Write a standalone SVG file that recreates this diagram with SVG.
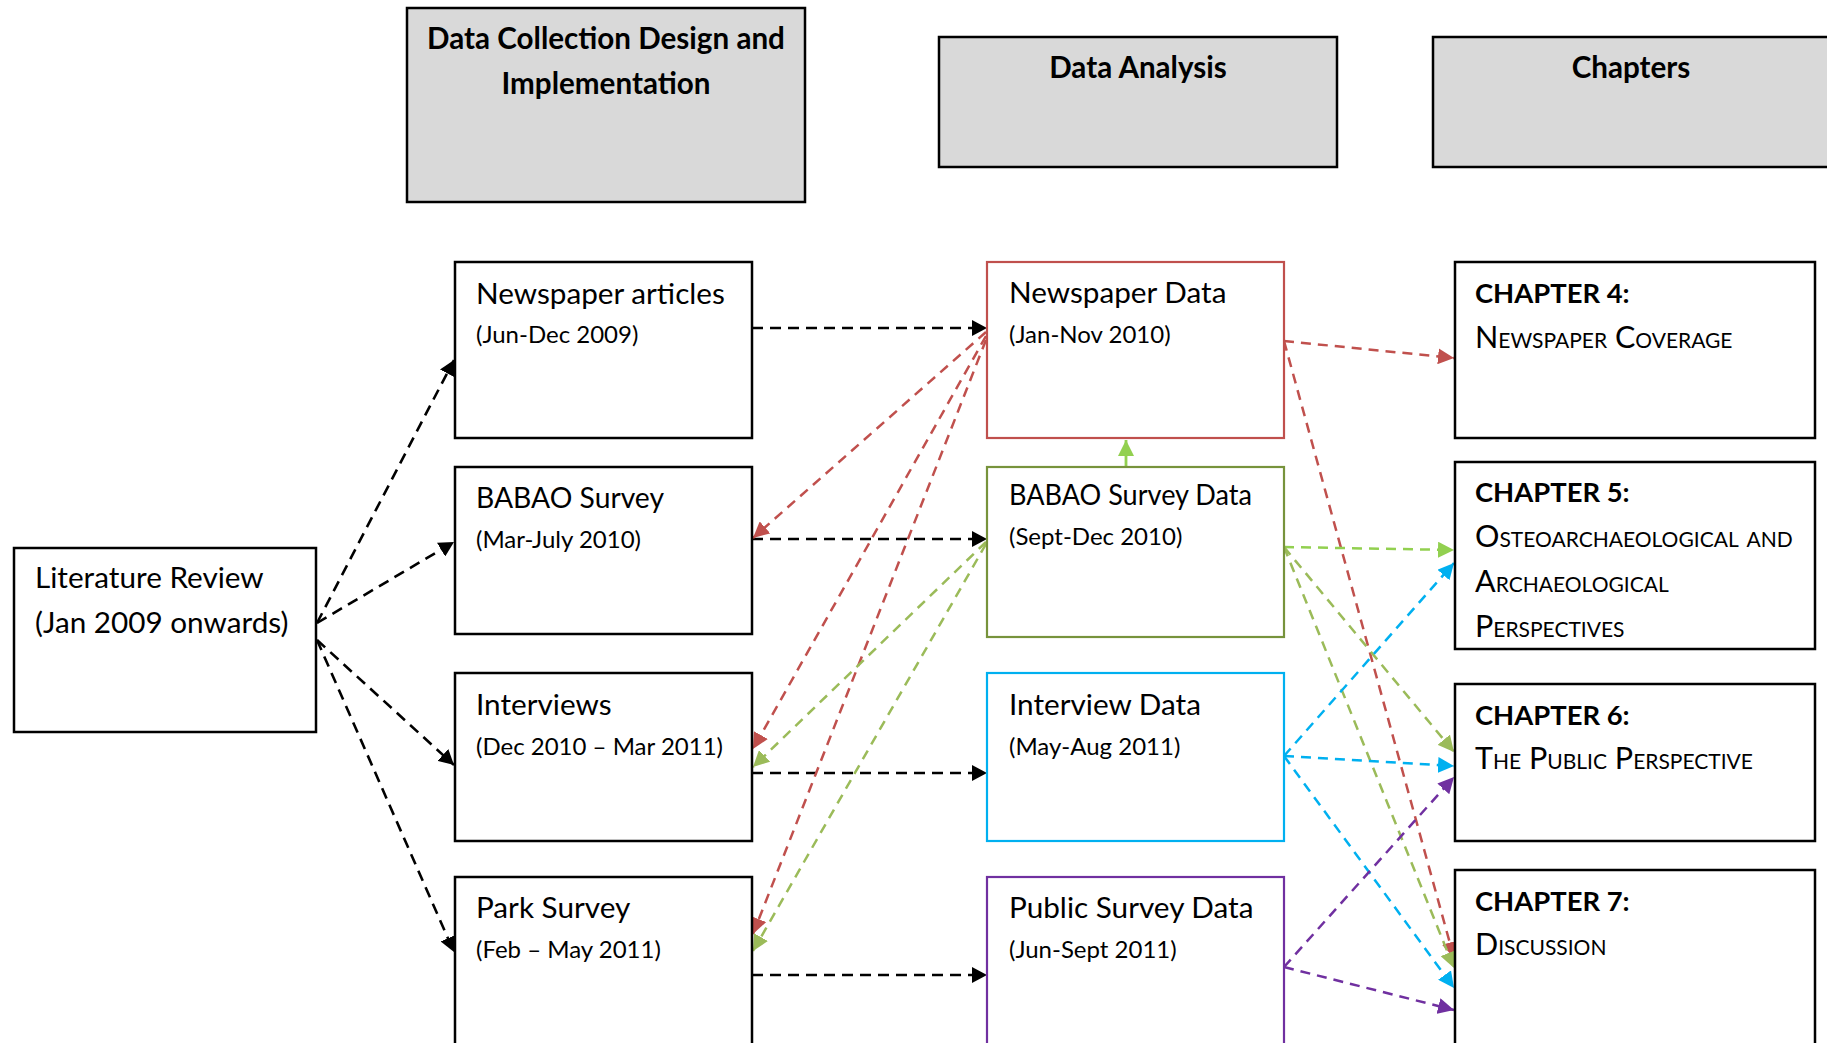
<svg xmlns="http://www.w3.org/2000/svg" width="1827" height="1043" viewBox="0 0 1827 1043">
<style>
text{font-family:Lato,"Liberation Sans",sans-serif;fill:#000}
.hdr{font-weight:bold;font-size:29.6px;text-anchor:middle}
.big{font-size:29.7px}
.sm{font-size:24px}
.chap{font-weight:bold;font-size:27.4px}
.sc{font-size:30.5px;font-variant:small-caps}
.hbox{fill:#D9D9D9;stroke:#000;stroke-width:2.5}
.box{fill:#fff;stroke:#000;stroke-width:2.5}
.k{stroke:#000;stroke-width:2.6;stroke-dasharray:11 7;fill:none}
.r{stroke:#C0504D;stroke-width:2.5;stroke-dasharray:10 7;fill:none}
.g{stroke:#9BBB59;stroke-width:2.5;stroke-dasharray:10 7;fill:none}
.b{stroke:#00B0F0;stroke-width:2.5;stroke-dasharray:10 7;fill:none}
.p{stroke:#7030A0;stroke-width:2.5;stroke-dasharray:10 7;fill:none}
</style>
<defs>
<marker id="ak" markerUnits="userSpaceOnUse" markerWidth="16" markerHeight="16" viewBox="0 0 16 16" refX="15" refY="8" orient="auto"><path d="M0,0 L15,8 L0,16 Z" fill="#000"/></marker>
<marker id="ar" markerUnits="userSpaceOnUse" markerWidth="17" markerHeight="16" viewBox="0 0 17 16" refX="16" refY="8" orient="auto"><path d="M0,0 L16,8 L0,16 Z" fill="#C0504D"/></marker>
<marker id="ag" markerUnits="userSpaceOnUse" markerWidth="17" markerHeight="16" viewBox="0 0 17 16" refX="16" refY="8" orient="auto"><path d="M0,0 L16,8 L0,16 Z" fill="#9BBB59"/></marker>
<marker id="ag2" markerUnits="userSpaceOnUse" markerWidth="17" markerHeight="16" viewBox="0 0 17 16" refX="16" refY="8" orient="auto"><path d="M0,0 L16,8 L0,16 Z" fill="#92D050"/></marker>
<marker id="ab" markerUnits="userSpaceOnUse" markerWidth="17" markerHeight="16" viewBox="0 0 17 16" refX="16" refY="8" orient="auto"><path d="M0,0 L16,8 L0,16 Z" fill="#00B0F0"/></marker>
<marker id="ap" markerUnits="userSpaceOnUse" markerWidth="17" markerHeight="16" viewBox="0 0 17 16" refX="16" refY="8" orient="auto"><path d="M0,0 L16,8 L0,16 Z" fill="#7030A0"/></marker>
</defs>
<rect width="1827" height="1043" fill="#fff"/>

<g id="hdr-collection">
<rect class="hbox" x="407" y="8" width="398" height="194"/>
<text class="hdr" x="606" y="49">Data Collection Design and</text>
<text class="hdr" x="606" y="94">Implementation</text>
</g>
<g id="hdr-analysis">
<rect class="hbox" x="939" y="37" width="398" height="130"/>
<text class="hdr" x="1138" y="78">Data Analysis</text>
</g>
<g id="hdr-chapters">
<rect class="hbox" x="1433" y="37" width="400" height="130"/>
<text class="hdr" x="1631" y="78">Chapters</text>
</g>

<g id="connectors">
<line class="k" x1="317" y1="623" x2="454" y2="360" marker-end="url(#ak)"/>
<line class="k" x1="317" y1="623" x2="454" y2="542" marker-end="url(#ak)"/>
<line class="k" x1="317" y1="640" x2="454" y2="765" marker-end="url(#ak)"/>
<line class="k" x1="317" y1="640" x2="454" y2="952" marker-end="url(#ak)"/>
<line class="k" x1="752" y1="328" x2="987" y2="328" marker-end="url(#ak)"/>
<line class="k" x1="752" y1="539" x2="987" y2="539" marker-end="url(#ak)"/>
<line class="k" x1="752" y1="773" x2="987" y2="773" marker-end="url(#ak)"/>
<line class="k" x1="752" y1="975" x2="987" y2="975" marker-end="url(#ak)"/>
<line class="r" x1="986" y1="332" x2="753" y2="538" marker-end="url(#ar)"/>
<line class="r" x1="986" y1="336" x2="753" y2="749" marker-end="url(#ar)"/>
<line class="r" x1="986" y1="340" x2="753" y2="934" marker-end="url(#ar)"/>
<line class="r" x1="1284" y1="341" x2="1454" y2="358" marker-end="url(#ar)"/>
<line class="r" x1="1284" y1="341" x2="1454" y2="958" marker-end="url(#ar)"/>
<line class="g" x1="986" y1="542" x2="753" y2="767" marker-end="url(#ag)"/>
<line class="g" x1="986" y1="544" x2="753" y2="951" marker-end="url(#ag)"/>
<line stroke="#92D050" stroke-width="2.8" x1="1126" y1="466" x2="1126" y2="440" marker-end="url(#ag2)"/>
<line class="g" x1="1284" y1="547" x2="1454" y2="550" marker-end="url(#ag2)" style="stroke:#92D050"/>
<line class="g" x1="1284" y1="547" x2="1454" y2="752" marker-end="url(#ag)"/>
<line class="g" x1="1284" y1="547" x2="1454" y2="968" marker-end="url(#ag)"/>
<line class="b" x1="1284" y1="756" x2="1454" y2="563" marker-end="url(#ab)"/>
<line class="b" x1="1284" y1="756" x2="1454" y2="766" marker-end="url(#ab)"/>
<line class="b" x1="1284" y1="756" x2="1454" y2="988" marker-end="url(#ab)"/>
<line class="p" x1="1284" y1="967" x2="1454" y2="777" marker-end="url(#ap)"/>
<line class="p" x1="1284" y1="967" x2="1454" y2="1010" marker-end="url(#ap)"/>
</g>

<g id="lit-review">
<rect class="box" x="14" y="548" width="302" height="184"/>
<text class="big" x="35" y="588">Literature Review</text>
<text class="big" x="35" y="633">(Jan 2009 onwards)</text>
</g>
<g id="newspaper-articles">
<rect class="box" x="455" y="262" width="297" height="176"/>
<text class="big" x="476" y="304">Newspaper articles</text>
<text class="sm" x="476" y="343">(Jun-Dec 2009)</text>
</g>
<g id="babao-survey">
<rect class="box" x="455" y="467" width="297" height="167"/>
<text class="big" x="476" y="508" textLength="188" lengthAdjust="spacingAndGlyphs">BABAO Survey</text>
<text class="sm" x="476" y="548">(Mar-July 2010)</text>
</g>
<g id="interviews">
<rect class="box" x="455" y="673" width="297" height="168"/>
<text class="big" x="476" y="715">Interviews</text>
<text class="sm" x="476" y="755">(Dec 2010 – Mar 2011)</text>
</g>
<g id="park-survey">
<rect class="box" x="455" y="877" width="297" height="180"/>
<text class="big" x="476" y="918">Park Survey</text>
<text class="sm" x="476" y="958">(Feb – May 2011)</text>
</g>

<g id="newspaper-data">
<rect x="987" y="262" width="297" height="176" fill="#fff" stroke="#C0504D" stroke-width="2.2"/>
<text class="big" x="1009" y="303">Newspaper Data</text>
<text class="sm" x="1009" y="343">(Jan-Nov 2010)</text>
</g>
<g id="babao-data">
<rect x="987" y="467" width="297" height="170" fill="#fff" stroke="#77933C" stroke-width="2.2"/>
<text class="big" x="1009" y="505" textLength="243" lengthAdjust="spacingAndGlyphs">BABAO Survey Data</text>
<text class="sm" x="1009" y="545">(Sept-Dec 2010)</text>
</g>
<g id="interview-data">
<rect x="987" y="673" width="297" height="168" fill="#fff" stroke="#00B0F0" stroke-width="2.2"/>
<text class="big" x="1009" y="715">Interview Data</text>
<text class="sm" x="1009" y="755">(May-Aug 2011)</text>
</g>
<g id="public-survey-data">
<rect x="987" y="877" width="297" height="180" fill="#fff" stroke="#7030A0" stroke-width="2.2"/>
<text class="big" x="1009" y="918">Public Survey Data</text>
<text class="sm" x="1009" y="958">(Jun-Sept 2011)</text>
</g>

<g id="chapter4">
<rect class="box" x="1455" y="262" width="360" height="176"/>
<text class="chap" x="1475" y="303">CHAPTER 4:</text>
<text class="sc" x="1475" y="348">Newspaper Coverage</text>
</g>
<g id="chapter5">
<rect class="box" x="1455" y="462" width="360" height="187"/>
<text class="chap" x="1475" y="502">CHAPTER 5:</text>
<text class="sc" x="1475" y="547">Osteoarchaeological and</text>
<text class="sc" x="1475" y="592">Archaeological</text>
<text class="sc" x="1475" y="637">Perspectives</text>
</g>
<g id="chapter6">
<rect class="box" x="1455" y="684" width="360" height="157"/>
<text class="chap" x="1475" y="725">CHAPTER 6:</text>
<text class="sc" x="1475" y="769">The Public Perspective</text>
</g>
<g id="chapter7">
<rect class="box" x="1455" y="870" width="360" height="190"/>
<text class="chap" x="1475" y="911">CHAPTER 7:</text>
<text class="sc" x="1475" y="955">Discussion</text>
</g>
</svg>
